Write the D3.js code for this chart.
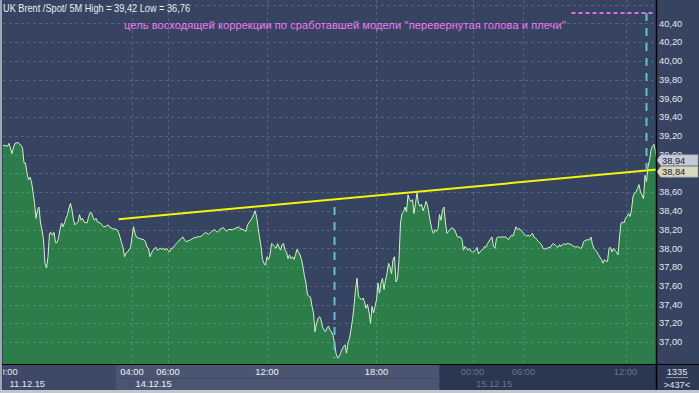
<!DOCTYPE html>
<html>
<head>
<meta charset="utf-8">
<script src="https://cdn.jsdelivr.net/npm/d3@7"></script>
<style>
    body { margin: 0; background: #364361; }
    svg { display: block; font-family: "Liberation Sans", Arial, sans-serif; }
</style>
</head>
<body>
<div class="container"></div>
<script>
const TITLE = 'UK Brent /Spot/ 5M High = 39,42 Low = 36,76';
const NOTE = "цель восходящей коррекции по сработавшей модели ''перевернутая голова и плечи''";

// [bar, close] - 5 minute bars, counted from the left edge of the window
const PRICES = [
    [0,39.10],[3,39.09],[4,39.12],[6,39.01],[7,39.08],[8,39.12],[10,39.13],[11,39.11],[12,39.10],[13,39.07],
    [14,38.91],[15,38.91],[16,38.80],[17,38.73],[18,38.76],[19,38.71],[20,38.60],[21,38.49],[22,38.32],[23,38.41],
    [24,38.44],[25,38.27],[26,38.20],[27,38.09],[28,37.84],[29,37.79],[30,37.91],[31,38.16],[32,38.17],[33,38.14],
    [34,38.17],[35,38.06],[36,38.06],[37,38.11],[38,38.20],[39,38.27],[40,38.23],[41,38.27],[42,38.32],[43,38.36],
    [44,38.43],[45,38.48],[46,38.41],[47,38.30],[48,38.25],[49,38.27],[50,38.28],[51,38.36],[52,38.30],[53,38.32],
    [54,38.28],[56,38.27],[57,38.33],[58,38.38],[59,38.38],[60,38.33],[61,38.30],[62,38.32],[63,38.28],[65,38.27],
    [67,38.23],[68,38.23],[69,38.24],[70,38.25],[71,38.23],[73,38.21],[76,38.20],[77,38.17],[78,38.12],[79,38.06],
    [80,38.01],[81,37.91],[82,37.95],[83,37.96],[85,38.01],[86,38.12],[87,38.23],[88,38.16],[89,38.12],[90,38.11],
    [92,38.10],[94,38.09],[95,38.07],[96,38.01],[97,38.00],[98,37.91],[99,37.95],[100,37.98],[101,38.00],[102,38.01],
    [103,37.98],[105,38.00],[106,37.99],[107,38.00],[108,37.98],[109,38.00],[110,37.98],[111,37.96],[112,38.00],[113,38.00],
    [115,38.04],[116,38.06],[118,38.09],[119,38.11],[120,38.12],[121,38.09],[122,38.07],[125,38.09],[127,38.11],[128,38.12],
    [129,38.11],[130,38.13],[131,38.12],[133,38.14],[135,38.17],[137,38.15],[139,38.18],[141,38.20],[143,38.17],[145,38.21],
    [147,38.22],[149,38.18],[150,38.20],[153,38.20],[156,38.22],[157,38.23],[158,38.21],[160,38.20],[162,38.18],[163,38.25],
    [166,38.32],[167,38.36],[168,38.40],[169,38.34],[170,38.23],[171,38.12],[172,38.02],[173,37.88],[174,37.84],[175,37.82],
    [176,37.91],[177,37.88],[178,37.93],[179,38.05],[180,38.04],[181,38.02],[182,38.00],[183,38.05],[185,37.98],[186,38.04],
    [187,38.05],[188,37.98],[189,37.96],[190,37.89],[191,37.93],[192,37.89],[193,37.91],[194,37.88],[195,37.93],[196,37.99],
    [197,37.96],[198,37.93],[199,37.88],[200,37.80],[201,37.70],[202,37.63],[203,37.50],[205,37.48],[206,37.38],[207,37.31],
    [208,37.11],[209,37.20],[210,37.25],[211,37.27],[212,37.24],[213,37.16],[214,37.13],[215,37.11],[216,37.15],[217,37.17],
    [218,37.13],[219,37.11],[220,37.07],[221,36.99],[222,36.88],[223,36.83],[224,36.84],[225,36.88],[226,36.92],[227,36.95],
    [228,36.97],[229,36.88],[230,36.99],[231,37.04],[232,37.13],[233,37.24],[234,37.38],[235,37.56],[236,37.68],[237,37.48],
    [238,37.47],[239,37.45],[240,37.47],[241,37.43],[242,37.36],[243,37.40],[244,37.32],[245,37.20],[246,37.38],[247,37.31],
    [248,37.38],[249,37.45],[250,37.63],[251,37.52],[252,37.63],[253,37.68],[254,37.56],[255,37.66],[256,37.73],[257,37.84],
    [258,37.80],[259,37.73],[260,37.88],[261,37.91],[262,37.64],[263,37.68],[264,37.88],[265,38.27],[266,38.37],[267,38.39],
    [268,38.44],[269,38.39],[270,38.57],[271,38.52],[272,38.50],[273,38.52],[274,38.37],[275,38.48],[276,38.59],[277,38.48],
    [278,38.45],[279,38.47],[280,38.40],[281,38.44],[282,38.50],[283,38.46],[285,38.27],[286,38.20],[287,38.16],[288,38.20],
    [289,38.18],[290,38.21],[291,38.36],[292,38.30],[293,38.41],[294,38.44],[295,38.27],[296,38.16],[297,38.18],[298,38.20],
    [299,38.22],[300,38.21],[301,38.20],[302,38.16],[303,38.12],[305,38.12],[306,38.09],[307,37.98],[308,38.02],[309,38.00],
    [310,37.98],[311,38.00],[312,37.97],[313,37.96],[315,37.98],[316,38.01],[317,37.94],[318,37.96],[319,37.98],[320,37.99],
    [321,38.02],[322,38.01],[323,38.05],[325,38.10],[326,38.12],[327,38.02],[328,38.00],[329,38.11],[330,38.12],[331,38.12],
    [332,38.12],[333,38.12],[335,38.12],[336,38.11],[337,38.09],[338,38.12],[339,38.14],[340,38.13],[341,38.18],[342,38.23],
    [343,38.20],[344,38.21],[345,38.20],[346,38.18],[347,38.16],[349,38.13],[350,38.14],[351,38.13],[352,38.14],[353,38.16],
    [354,38.12],[355,38.11],[356,38.09],[357,38.07],[359,38.04],[360,38.00],[361,37.99],[362,38.00],[363,38.00],[364,38.01],
    [365,38.01],[366,38.04],[367,38.05],[369,38.02],[370,38.01],[371,38.04],[372,38.02],[373,38.04],[374,38.05],[375,38.04],
    [376,38.05],[377,38.05],[379,38.04],[380,38.02],[381,38.02],[382,38.01],[383,38.02],[384,38.01],[385,38.00],[386,38.01],
    [387,38.07],[389,38.09],[390,38.09],[391,38.09],[392,38.12],[393,38.04],[394,38.00],[395,37.98],[396,37.96],[397,37.93],
    [399,37.88],[400,37.84],[401,37.88],[402,37.86],[403,37.86],[404,38.00],[405,38.01],[406,37.96],[407,38.00],[409,37.96],
    [410,37.93],[411,38.12],[412,38.27],[413,38.28],[414,38.27],[415,38.32],[416,38.34],[417,38.37],[418,38.34],[419,38.41],
    [420,38.55],[421,38.59],[422,38.60],[423,38.64],[424,38.68],[425,38.60],[426,38.57],[427,38.53],[428,38.78],[429,38.71],
    [430,38.87],[431,38.94],[432,39.05],[433,39.09],[434,39.11],[435,39.03],[436,38.94]
];

const PRICE_GRID = [37.00, 37.20, 37.40, 37.60, 37.80, 38.00, 38.20, 38.40, 38.60, 38.80,
                    39.00, 39.20, 39.40, 39.60, 39.80, 40.00, 40.20, 40.40, 40.60];

// [bar, label]
const TIME_TICKS = [[2, '20:00'], [86, '04:00'], [110, '06:00'], [176, '12:00'],
                    [249, '18:00'], [313, '00:00'], [347, '06:00'], [415, '12:00']];
const DAYS = [[2, '11.12.15'], [86, '14.12.15'], [313, '15.12.15']];
// [first bar, last bar] of each trading session band under the chart
const SESSIONS = [[0, 75], [75, 291], [291, 436]];

const NECKLINE = [[77, 38.31], [436, 38.84]];
const HEAD_DEPTH = [[221, 38.44], [221, 36.83]];
const TARGET = [[429, 40.51], [429, 38.85]];
const TARGET_LEVEL = [[379, 40.51], [433, 40.51]];
const LAST_PRICE = 38.94;
const BAR_COUNT = '1335';
const BAR_SHIFT = '>437<';

const WIDTH = 699;
const HEIGHT = 393;
const PLOT = { left: 3, right: 657, top: 0, bottom: 364 };

const SESSION_FILL = ['#3d4966', '#4a5671', '#2b3651'];
const SESSION_TEXT = ['#e6eaf2', '#eef1f6', '#6a7591'];

const fmt = v => d3.format('.2f')(v).replace('.', ',');

const svg = d3.select('.container').append('svg')
    .attr('width', WIDTH)
    .attr('height', HEIGHT);

const xScale = d3.scaleLinear()
    .domain([0, 436])
    .range([PLOT.left, PLOT.right]);

const yScale = d3.scaleLinear()
    .domain([36.765, 40.65])
    .range([PLOT.bottom, PLOT.top]);

svg.append('rect')
    .attr('width', WIDTH).attr('height', HEIGHT)
    .attr('fill', '#364361');

svg.append('clipPath').attr('id', 'plot-clip')
    .append('rect')
    .attr('x', PLOT.left).attr('y', PLOT.top)
    .attr('width', PLOT.right - PLOT.left).attr('height', PLOT.bottom - PLOT.top);

let g = svg.append('g').attr('clip-path', 'url(#plot-clip)');

//--area--
let area = d3.area()
    .x(d => xScale(d[0]))
    .y0(PLOT.bottom)
    .y1(d => yScale(d[1]));

g.append('path')
    .attr('d', area(PRICES))
    .attr('fill', '#2d7d4b');

//--grid--
g.selectAll('.hgrid').data(PRICE_GRID)
    .enter().append('line')
    .attr('x1', PLOT.left).attr('x2', PLOT.right)
    .attr('y1', d => Math.round(yScale(d)) + 0.5)
    .attr('y2', d => Math.round(yScale(d)) + 0.5)
    .attr('stroke', 'rgba(255,255,255,0.16)')
    .attr('stroke-dasharray', '3,3');

// the first label is cut by the window edge and has no grid line
g.selectAll('.vgrid').data(TIME_TICKS.slice(1))
    .enter().append('line')
    .attr('x1', d => Math.round(xScale(d[0])) + 0.5)
    .attr('x2', d => Math.round(xScale(d[0])) + 0.5)
    .attr('y1', PLOT.top).attr('y2', PLOT.bottom)
    .attr('stroke', 'rgba(255,255,255,0.16)')
    .attr('stroke-dasharray', '3,3');

//--line--
let line = d3.line()
    .x(d => xScale(d[0]))
    .y(d => yScale(d[1]));

g.append('path')
    .attr('d', line(PRICES))
    .attr('fill', 'none')
    .attr('stroke', '#d2f2c8')
    .attr('stroke-width', 1);

//--pattern marks--
g.append('path')
    .attr('d', line(NECKLINE))
    .attr('stroke', '#f4f40c')
    .attr('stroke-width', 2);

[HEAD_DEPTH, TARGET].forEach(seg => {
    g.append('path')
        .attr('d', line(seg))
        .attr('stroke', '#5ec3d3')
        .attr('stroke-width', 2)
        .attr('stroke-dasharray', '8,7');
});

g.append('path')
    .attr('d', line(TARGET_LEVEL))
    .attr('stroke', '#e46ae6')
    .attr('stroke-width', 2)
    .attr('stroke-dasharray', '4,3');

//--texts on the plot--
svg.append('text')
    .attr('x', 3).attr('y', 12)
    .attr('font-size', 10.5)
    .attr('fill', '#e8ecf3')
    .attr('textLength', 187)
    .attr('lengthAdjust', 'spacingAndGlyphs')
    .text(TITLE);

svg.append('text')
    .attr('x', 124).attr('y', 29)
    .attr('font-size', 11)
    .attr('fill', '#f07af0')
    .attr('textLength', 442)
    .text(NOTE);

//--right axis--
svg.append('g').selectAll('text')
    .data(PRICE_GRID.filter(v => yScale(v) > 12))
    .enter().append('text')
    .attr('x', 659)
    .attr('y', d => yScale(d))
    .attr('dy', '0.35em')
    .attr('font-size', 9.3)
    .attr('fill', '#e4e8f0')
    .text(fmt);

const priceBox = function (cy, fill, label) {
    let top = cy - 5.5, bottom = cy + 5.5;
    svg.append('path')
        .attr('d', `M${PLOT.right - 0.5},${cy} L661,${top} L698,${top} L698,${bottom} L661,${bottom} Z`)
        .attr('fill', fill)
        .attr('stroke', '#8a90a0')
        .attr('stroke-width', 0.6);
    svg.append('text')
        .attr('x', 662).attr('y', cy)
        .attr('dy', '0.36em')
        .attr('font-size', 9.3)
        .attr('fill', '#182033')
        .text(label);
};

let lastY = yScale(LAST_PRICE);
let trendY = yScale(NECKLINE[1][1]);
priceBox(lastY, '#c6cad6', fmt(LAST_PRICE));
priceBox(Math.max(trendY, lastY + 11.5), '#d8d9bb', fmt(NECKLINE[1][1]));

//--bottom axis--
let axis = svg.append('g');

SESSIONS.forEach((s, i) => {
    axis.append('rect')
        .attr('x', xScale(s[0])).attr('y', PLOT.bottom)
        .attr('width', xScale(s[1]) - xScale(s[0])).attr('height', 26)
        .attr('fill', SESSION_FILL[i]);
});

axis.append('line')
    .attr('x1', xScale(SESSIONS[1][0])).attr('x2', xScale(SESSIONS[1][1]))
    .attr('y1', 378.5).attr('y2', 378.5)
    .attr('stroke', '#3e4a66');
axis.append('line')
    .attr('x1', xScale(DAYS[1][0]) - 1.5).attr('x2', xScale(DAYS[1][0]) - 1.5)
    .attr('y1', 378.5).attr('y2', 390)
    .attr('stroke', '#3e4a66');

const sessionOf = bar => SESSIONS.findIndex(s => bar >= s[0] && bar < s[1]);

svg.append('clipPath').attr('id', 'axis-clip')
    .append('rect')
    .attr('x', PLOT.left).attr('y', PLOT.bottom)
    .attr('width', PLOT.right - PLOT.left).attr('height', 26);

let labels = axis.append('g').attr('clip-path', 'url(#axis-clip)');

labels.selectAll('.time').data(TIME_TICKS)
    .enter().append('text')
    .attr('x', d => xScale(d[0]))
    .attr('y', 375)
    .attr('text-anchor', 'middle')
    .attr('font-size', 9.3)
    .attr('fill', d => SESSION_TEXT[sessionOf(d[0])])
    .text(d => d[1]);

labels.selectAll('.day').data(DAYS)
    .enter().append('text')
    .attr('x', d => xScale(d[0]) + 3.5)
    .attr('y', 387)
    .attr('font-size', 9.3)
    .attr('fill', d => SESSION_TEXT[sessionOf(d[0])])
    .text(d => d[1]);

//--corner box--
svg.append('rect')
    .attr('x', PLOT.right).attr('y', PLOT.bottom)
    .attr('width', WIDTH - PLOT.right).attr('height', 26)
    .attr('fill', '#2e3a55');
svg.append('text')
    .attr('x', 677).attr('y', 375)
    .attr('text-anchor', 'middle')
    .attr('font-size', 9.3).attr('fill', '#dfe4ee')
    .text(BAR_COUNT);
svg.append('line')
    .attr('x1', 666).attr('x2', 688)
    .attr('y1', 377.5).attr('y2', 377.5)
    .attr('stroke', '#8a93a8');
svg.append('text')
    .attr('x', 677).attr('y', 387.5)
    .attr('text-anchor', 'middle')
    .attr('font-size', 9.3).attr('fill', '#dfe4ee')
    .text(BAR_SHIFT);

//--frame--
svg.append('line')
    .attr('x1', 0).attr('x2', WIDTH)
    .attr('y1', PLOT.bottom + 0.5).attr('y2', PLOT.bottom + 0.5)
    .attr('stroke', '#000').attr('stroke-width', 1.2);
svg.append('line')
    .attr('x1', PLOT.right - 0.5).attr('x2', PLOT.right - 0.5)
    .attr('y1', 0).attr('y2', 390)
    .attr('stroke', '#000').attr('stroke-width', 1.5);
svg.append('rect')
    .attr('x', 0).attr('y', 0).attr('width', 2).attr('height', HEIGHT)
    .attr('fill', '#9fa6b4');
svg.append('rect')
    .attr('x', 0).attr('y', 390).attr('width', WIDTH).attr('height', 3)
    .attr('fill', '#c2c6ce');
</script>
</body>
</html>
